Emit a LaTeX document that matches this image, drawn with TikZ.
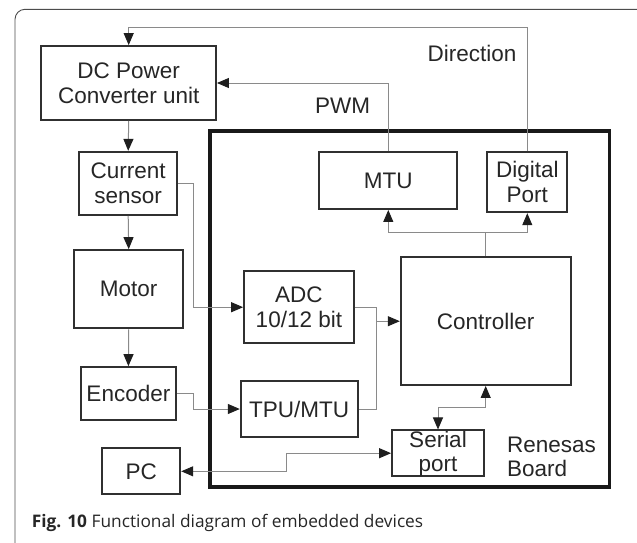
\documentclass[tikz,border=0pt]{standalone}
\usepackage{fontspec}
\setmainfont{Liberation Sans}
\newfontfamily\capfont{Open Sans}
\usetikzlibrary{arrows.meta}
\definecolor{conncol}{HTML}{8A8A8A}
\definecolor{boxcol}{HTML}{303030}
\definecolor{tipcol}{HTML}{1E1E1E}
\begin{document}
\begin{tikzpicture}[x=1pt,y=-1pt,
  box/.style={draw=boxcol,line width=1.8pt,fill=white,inner sep=0pt,align=center,
    font=\fontsize{22.5}{25}\selectfont,text=black!85},
  conn/.style={draw=conncol,line width=1pt},
  tipA/.tip={Triangle[length=12pt,width=10pt,color=tipcol]},
  arr/.style={-tipA},
  biarr/.style={tipA-tipA},
  lbl/.style={font=\fontsize{22.5}{25}\selectfont,text=black!85,inner sep=0pt}]
\useasboundingbox (0,0) rectangle (637,542);
\begin{scope}
\clip (0,0) rectangle (637,542);
\draw[draw=black!70,line width=0.9pt,rounded corners=10pt] (15,9.3) rectangle (650,560);
\end{scope}
% Renesas board
\draw[draw=black!90,line width=3.5pt] (210,131) rectangle (609.7,487);
% boxes
\node[box,minimum width=174.7pt,minimum height=74pt] (dc) at (128.7,83) {DC Power\\Converter unit};
\node[box,minimum width=98.3pt,minimum height=63.3pt] (cur) at (128.2,183.4) {Current\\sensor};
\node[box,minimum width=109.3pt,minimum height=78.3pt] (motor) at (128.7,289.2) {Motor};
\node[box,minimum width=95.3pt,minimum height=53.3pt] (enc) at (128.4,393.7) {Encoder};
\node[box,minimum width=78pt,minimum height=46pt] (pc) at (141.3,471.3) {PC};
\node[box,minimum width=138pt,minimum height=56.7pt] (mtu) at (388.3,180.7) {MTU};
\node[box,minimum width=80pt,minimum height=60pt] (dig) at (527.3,182.3) {Digital\\Port};
\node[box,minimum width=109.7pt,minimum height=71.7pt] (adc) at (298.9,307.2) {ADC\\10/12 bit};
\node[box,minimum width=170pt,minimum height=127.7pt] (ctrl) at (485.7,321.2) {Controller};
\node[box,minimum width=117pt,minimum height=56pt] (tpu) at (299.2,409) {TPU/MTU};
\node[box,minimum width=92pt,minimum height=45.7pt] (ser) at (438,453.2) {Serial\\[-1pt]port};
% labels
\node[lbl] (dirlbl) at (472,53.3) {Direction};
\node[lbl] (pwmlbl) at (342.7,106) {PWM};
\node[lbl,align=left,anchor=west] (rb) at (507,457) {Renesas\\[-1pt]Board};
\node[inner sep=0pt,anchor=west,font=\capfont\fontsize{17.3}{20}\selectfont,text=black!85] (cap) at (31.7,522.7) {\textbf{Fig. 10} Functional diagram of embedded devices};
% coordinates
\coordinate (dirtop) at (0,27.3);
\coordinate (busx) at (376.5,0);
\coordinate (senx) at (193.3,0);
\coordinate (ctop) at (0,232.3);
\coordinate (cbot) at (0,407);
\coordinate (pcx) at (286,0);
% connectors
\draw[conn,arr] (dig.north) -- (dig.north |- dirtop) -| (dc.north);
\draw[conn,arr] (mtu.north) |- (dc.east);
\draw[conn,arr] (dc.south) -- (cur.north);
\draw[conn,arr] (cur.south) -- (motor.north);
\draw[conn,arr] (motor.south) -- (enc.north);
\draw[conn,arr] (cur.east) -- (senx |- cur.east) |- (adc.west);
\draw[conn,arr] (enc.east) -- (senx |- enc.east) |- (tpu.west);
\draw[conn] (adc.east) -- (busx |- adc.east) -- (busx |- tpu.east) -- (tpu.east);
\draw[conn,arr] (busx |- ctrl.west) -- (ctrl.west);
\draw[conn] (ctrl.north) -- (ctrl.north |- ctop);
\draw[conn,arr] (ctrl.north |- ctop) -| (mtu.south);
\draw[conn,arr] (ctrl.north |- ctop) -| (dig.south);
\draw[conn,biarr] (ctrl.south) -- (ctrl.south |- cbot) -| (ser.north);
\draw[conn,biarr] (pc.east) -- (pcx |- pc.east) |- (ser.west);
\end{tikzpicture}
\end{document}
